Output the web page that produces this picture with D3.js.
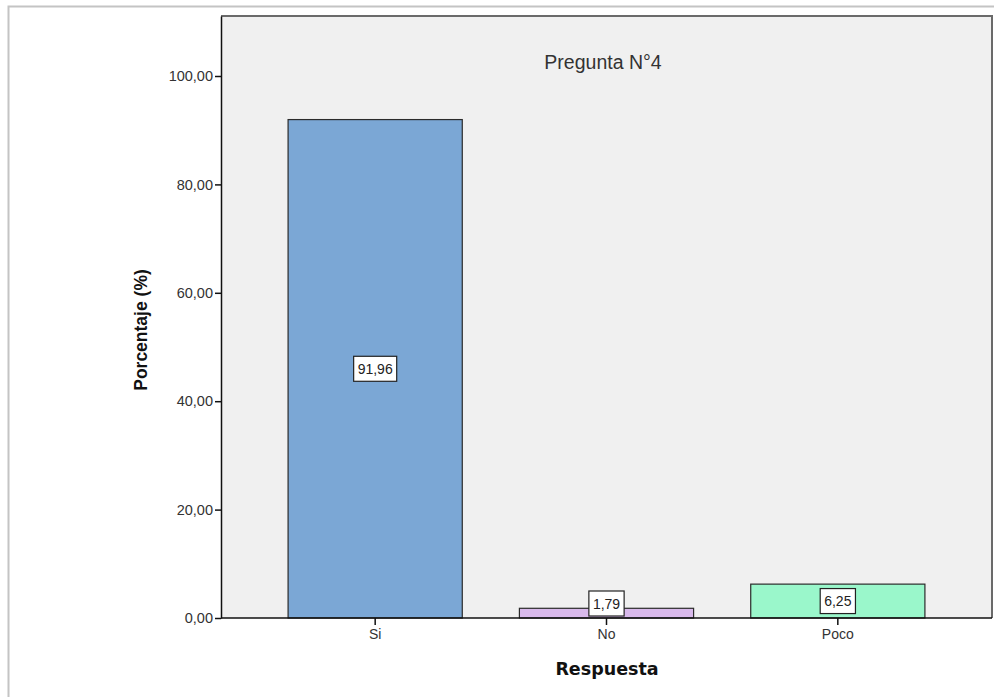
<!DOCTYPE html>
<html>
<head>
<meta charset="utf-8">
<script src="https://cdn.jsdelivr.net/npm/d3@7/dist/d3.min.js"></script>
<style>
  html, body { margin: 0; padding: 0; background: #fff; }
  svg { display: block; font-family: Arial, "Liberation Sans", sans-serif; }
</style>
</head>
<body>
<svg id="chart" width="994" height="697"></svg>
<script>
// Respuestas a la pregunta N°4 (porcentaje)
const categories = ["Si", "No", "Poco"];
const values = [91.96, 1.79, 6.25];
const barColors = ["#7ba7d5", "#d8b9eb", "#9af7cb"];
const yTicks = [0, 20, 40, 60, 80, 100];
const valueLabels = ["91,96", "1,79", "6,25"];

const svg = d3.select("#chart");
const W = 994, H = 697;

// outer frame
svg.append("rect")
  .attr("x", 8.5).attr("y", 6.5)
  .attr("width", W + 10).attr("height", H + 10)
  .attr("fill", "#fff").attr("stroke", "#c4c4c4").attr("stroke-width", 2);

const plot = { left: 221, top: 16, right: 992, bottom: 618 };

const y = d3.scaleLinear().domain([0, 111.07]).range([plot.bottom, plot.top]);
const x = d3.scaleBand().domain(categories)
  .range([plot.left, plot.right])
  .paddingInner(0.247).paddingOuter(0.29);

// plot background
svg.append("rect")
  .attr("x", plot.left).attr("y", plot.top)
  .attr("width", plot.right - plot.left).attr("height", plot.bottom - plot.top)
  .attr("fill", "#f0f0f0");

// top / right frame
svg.append("path")
  .attr("d", `M${plot.left},${plot.top}H${plot.right}V${plot.bottom}`)
  .attr("fill", "none").attr("stroke", "#6a6a6a").attr("stroke-width", 2);

// bars
svg.append("g").selectAll("rect")
  .data(categories)
  .join("rect")
  .attr("x", d => x(d))
  .attr("y", (d, i) => y(values[i]))
  .attr("width", x.bandwidth())
  .attr("height", (d, i) => y(0) - y(values[i]))
  .attr("fill", (d, i) => barColors[i])
  .attr("stroke", "#2b2b2b").attr("stroke-width", 1.2);

// title
svg.append("text")
  .attr("x", 603).attr("y", 69)
  .attr("text-anchor", "middle")
  .attr("font-size", 19.5).attr("fill", "#333")
  .text("Pregunta N°4");

// y axis
const yAxis = d3.axisLeft(y).tickValues(yTicks)
  .tickFormat(d => d3.format(".2f")(d).replace(".", ","))
  .tickSize(6).tickSizeOuter(0);
const gy = svg.append("g").attr("transform", `translate(${plot.left},0)`).call(yAxis);
gy.select(".domain").attr("stroke", "#111").attr("stroke-width", 1.5);
gy.selectAll(".tick line").attr("stroke", "#111").attr("stroke-width", 1.5);
gy.selectAll(".tick text").attr("font-size", 14.5).attr("fill", "#333")
  .attr("font-family", "Arial, 'Liberation Sans', sans-serif").attr("x", -8);

// x axis
const xAxis = d3.axisBottom(x).tickSize(7).tickSizeOuter(0);
const gx = svg.append("g").attr("transform", `translate(0,${plot.bottom})`).call(xAxis);
gx.select(".domain").attr("stroke", "#111").attr("stroke-width", 1.5)
  .attr("d", `M${plot.left},0H${plot.right}`);
gx.selectAll(".tick line").attr("stroke", "#111").attr("stroke-width", 1.5);
gx.selectAll(".tick text").attr("font-size", 14).attr("fill", "#333")
  .attr("font-family", "Arial, 'Liberation Sans', sans-serif").attr("y", 11);

// axis titles
svg.append("text")
  .attr("transform", `translate(147,${330}) rotate(-90)`)
  .attr("text-anchor", "middle")
  .attr("font-size", 17.5).attr("font-weight", "bold").attr("fill", "#111")
  .text("Porcentaje (%)");

svg.append("text")
  .attr("x", 607).attr("y", 675)
  .attr("text-anchor", "middle")
  .attr("font-family", "'DejaVu Sans', Verdana, sans-serif")
  .attr("font-size", 17.5).attr("font-weight", "bold").attr("fill", "#111")
  .text("Respuesta");

// value labels in boxes
const lab = svg.append("g");
categories.forEach((c, i) => {
  const cx = x(c) + x.bandwidth() / 2;
  const boxH = 25;
  let cy = y(values[i] / 2);
  cy = Math.min(cy, plot.bottom - 2 - boxH / 2);
  const t = lab.append("text")
    .attr("x", cx).attr("y", cy + 5)
    .attr("text-anchor", "middle")
    .attr("font-size", 14).attr("fill", "#222")
    .text(valueLabels[i]);
  const w = t.node().getComputedTextLength() + 8;
  lab.insert("rect", () => t.node())
    .attr("x", cx - w / 2).attr("y", cy - boxH / 2)
    .attr("width", w).attr("height", boxH)
    .attr("fill", "#fff").attr("stroke", "#222").attr("stroke-width", 1.2);
});
</script>
</body>
</html>
